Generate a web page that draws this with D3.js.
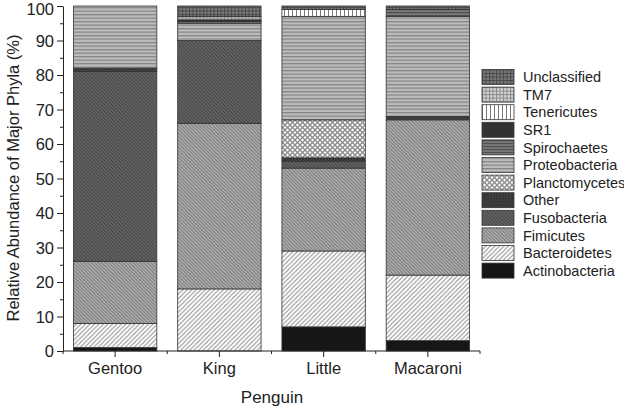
<!DOCTYPE html>
<html lang="en">
<head>
<meta charset="UTF-8" />
<title>Relative abundance of major phyla</title>
<style>
  body { margin: 0; background: #fff; }
  svg { display: block; font-family: "Liberation Sans", Arial, sans-serif; }
  .axis path, .axis line { stroke: #222; }
  .axis text { font-size: 16.5px; fill: #222; }
</style>
</head>
<body>
<svg width="624" height="409"></svg>
<script src="https://d3js.org/d3.v7.min.js"></script>
<script>
  // penguin groups on the x axis
  const penguins = ["Gentoo", "King", "Little", "Macaroni"];

  // phyla, bottom of stack first
  const phyla = ["Actinobacteria", "Bacteroidetes", "Fimicutes", "Fusobacteria", "Other",
    "Planctomycetes", "Proteobacteria", "Spirochaetes", "SR1", "Tenericutes", "TM7", "Unclassified"];

  // relative abundance (%) per penguin, same order as phyla
  const gentoo   = [1, 7, 18, 55, 1, 0, 18, 0, 0, 0, 0, 0];
  const king     = [0, 18, 48, 24, 0, 0, 5, 0.5, 0.5, 0, 1, 3];
  const little   = [7, 22, 24, 2, 1, 11, 30, 0, 0, 2, 0, 1];
  const macaroni = [3, 19, 45, 0, 1, 0, 29, 2, 0, 0, 0, 1];

  const yTicks = [0, 10, 20, 30, 40, 50, 60, 70, 80, 90, 100];

  const rows = [gentoo, king, little, macaroni].map((vals, i) => {
    const r = { penguin: penguins[i] };
    phyla.forEach((p, j) => r[p] = vals[j]);
    return r;
  });

  const svg = d3.select("svg");
  const defs = svg.append("defs");

  // hatch patterns, one per phylum
  function pattern(id, size, bg, draw) {
    const p = defs.append("pattern").attr("id", id)
      .attr("patternUnits", "userSpaceOnUse")
      .attr("width", size).attr("height", size);
    p.append("rect").attr("width", size).attr("height", size).attr("fill", bg);
    draw(p, size);
  }
  const hLines = (col, w) => (p, s) => p.append("rect").attr("y", 0).attr("width", s).attr("height", w).attr("fill", col);
  const vLines = (col, w) => (p, s) => p.append("rect").attr("x", 0).attr("width", w).attr("height", s).attr("fill", col);
  const grid = (col, w) => (p, s) => { hLines(col, w)(p, s); vLines(col, w)(p, s); };
  const back = (col, w) => (p, s) => p.append("path")
    .attr("d", `M0,0 L${s},${s} M${-s},0 L${s},${2 * s} M0,${-s} L${2 * s},${s}`)
    .attr("stroke", col).attr("stroke-width", w);
  const fwd = (col, w) => (p, s) => p.append("path")
    .attr("d", `M0,${s} L${s},0 M${-s},${s} L${s},${-s} M0,${2 * s} L${2 * s},0`)
    .attr("stroke", col).attr("stroke-width", w);
  const cross = (col, w) => (p, s) => { back(col, w)(p, s); fwd(col, w)(p, s); };
  const solid = () => () => {};

  const pats = {
    "Actinobacteria": [4, "#161616", solid()],
    "Bacteroidetes": [4.5, "#ffffff", fwd("#8a8a8a", 1)],
    "Fimicutes": [3.5, "#b4b4b4", back("#6e6e6e", 1)],
    "Fusobacteria": [3.5, "#6a6a6a", back("#3c3c3c", 1)],
    "Other": [3, "#4a4a4a", cross("#2a2a2a", 0.8)],
    "Planctomycetes": [5, "#ffffff", cross("#8a8a8a", 1.3)],
    "Proteobacteria": [3.5, "#bdbdbd", hLines("#868686", 1.3)],
    "Spirochaetes": [3, "#7a7a7a", hLines("#4e4e4e", 1.2)],
    "SR1": [4, "#333333", solid()],
    "Tenericutes": [4, "#ffffff", vLines("#7a7a7a", 1)],
    "TM7": [3.5, "#d4d4d4", grid("#8a8a8a", 1)],
    "Unclassified": [3.5, "#7a7a7a", grid("#4a4a4a", 1)]
  };
  phyla.forEach((p, i) => pattern("pat" + i, pats[p][0], pats[p][1], pats[p][2]));
  const fillOf = p => `url(#pat${phyla.indexOf(p)})`;

  const x = d3.scaleBand().domain(penguins).range([63, 480]).paddingInner(0.2).paddingOuter(0.1);
  const y = d3.scaleLinear().domain([0, 100]).range([351, 6]);

  const stacked = d3.stack().keys(phyla)(rows);

  svg.append("g").selectAll("g")
    .data(stacked)
    .join("g")
    .attr("fill", d => fillOf(d.key))
    .selectAll("rect")
    .data(d => d.filter(s => s[1] - s[0] > 0))
    .join("rect")
    .attr("x", d => x(d.data.penguin))
    .attr("width", x.bandwidth())
    .attr("y", d => y(d[1]))
    .attr("height", d => y(d[0]) - y(d[1]))
    .attr("stroke", "#333")
    .attr("stroke-width", 0.8);

  // y axis with minor ticks
  const yAxis = svg.append("g").attr("class", "axis").attr("transform", "translate(63,0)")
    .call(d3.axisLeft(y).tickValues(yTicks).tickSize(6).tickPadding(3).tickSizeOuter(0));
  yAxis.selectAll(".tick text").attr("dy", "0.36em");
  yAxis.selectAll(".tick text").filter(d => d === 100).attr("dy", "0.5em");
  svg.append("g").attr("class", "axis").attr("transform", "translate(63,0)")
    .call(d3.axisLeft(y).tickValues(d3.range(5, 100, 10)).tickSize(3).tickFormat("").tickSizeOuter(0))
    .select(".domain").remove();

  // x axis: major ticks at centres, minor ticks at band edges
  const xAxis = svg.append("g").attr("class", "axis").attr("transform", "translate(0,351)")
    .call(d3.axisBottom(x).tickSize(6).tickPadding(5).tickSizeOuter(0));
  xAxis.select(".domain").attr("d", "M63,0H480");
  const edges = penguins.map(p => x(p) - x.step() * x.paddingInner() / 2).concat([480]);
  xAxis.selectAll(".minor").data(edges).join("line").attr("class", "minor")
    .attr("x1", d => d).attr("x2", d => d).attr("y1", 0).attr("y2", 3).attr("stroke", "#222");

  svg.append("text").attr("x", 272).attr("y", 403).attr("text-anchor", "middle")
    .attr("font-size", 17).attr("fill", "#222").text("Penguin");
  svg.append("text").attr("transform", "translate(19,178) rotate(-90)").attr("text-anchor", "middle")
    .attr("font-size", 16.5).attr("fill", "#222").text("Relative Abundance of Major Phyla (%)");

  // legend, top entry is last phylum
  const legend = svg.append("g").selectAll("g")
    .data(phyla.slice().reverse())
    .join("g")
    .attr("transform", (d, i) => `translate(482,${69.5 + i * 17.6})`);
  legend.append("rect").attr("width", 32).attr("height", 15)
    .attr("fill", d => fillOf(d)).attr("stroke", "#333").attr("stroke-width", 0.8);
  legend.append("text").attr("x", 41).attr("y", 7.5).attr("dy", "0.36em")
    .attr("font-size", 14.5).attr("fill", "#222").text(d => d);
</script>
</body>
</html>
